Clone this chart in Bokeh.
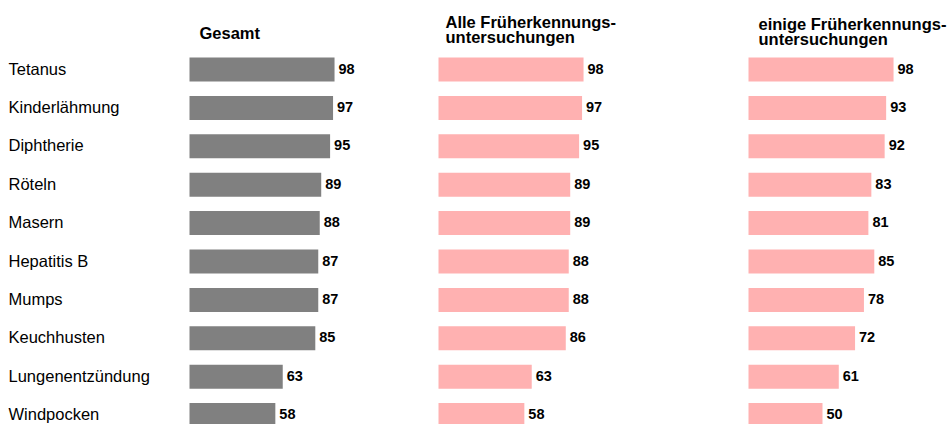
from bokeh.plotting import figure
from bokeh.models import Range1d, ColumnDataSource
from bokeh.core.properties import value
from bokeh.embed import file_html
from bokeh.resources import INLINE

categories = ["Tetanus", "Kinderlähmung", "Diphtherie", "Röteln", "Masern",
              "Hepatitis B", "Mumps", "Keuchhusten", "Lungenentzündung", "Windpocken"]
panel_titles = ["Gesamt", "Alle Früherkennungs-\nuntersuchungen", "einige Früherkennungs-\nuntersuchungen"]
gesamt = [98, 97, 95, 89, 88, 87, 87, 85, 63, 58]
alle = [98, 97, 95, 89, 89, 88, 88, 86, 63, 58]
einige = [98, 93, 92, 83, 81, 85, 78, 72, 61, 50]

series = [gesamt, alle, einige]
colors = ["#808080", "#FFB1B1", "#FFB1B1"]

W, H = 949, 424
PX_PER_UNIT = 1.48
ROW_PX = 38.4
FIRST_ROW_PX = 69

offsets_px = [189, 438, 748]
title_x_px = [199, 445, 758]
title_base_px = [32.5, 21.5, 23]
LINE_STEP_PX = 15

def ux(px):
    return px / PX_PER_UNIT

def uy(px):
    return (px - FIRST_ROW_PX) / ROW_PX

p = figure(width=W, height=H, output_backend="svg", toolbar_location=None,
           x_range=Range1d(0, ux(W)), y_range=Range1d(uy(H), uy(0)),
           min_border=0, outline_line_color=None)
p.axis.visible = False
p.grid.visible = False

ys = list(range(len(categories)))
bar_h = 24 / ROW_PX
font = "Liberation Sans"

p.text(x=[ux(8)] * len(categories), y=[y - 1 / ROW_PX for y in ys], text=categories,
       text_font=value(font), text_font_size="16.5px", text_baseline="middle",
       text_align="left", text_color="#000000")

for k, vals in enumerate(series):
    off = ux(offsets_px[k])
    src = ColumnDataSource(dict(y=ys, left=[off] * len(vals),
                                right=[off + v for v in vals],
                                lab=[str(v) for v in vals]))
    p.hbar(y="y", left="left", right="right", height=bar_h, source=src,
           fill_color=colors[k], line_color=None)
    p.text(x="right", y="y", text="lab", source=src, x_offset=4, y_offset=-1,
           text_font=value(font), text_font_size="14.5px", text_font_style="bold",
           text_baseline="middle", text_align="left", text_color="#000000")
    lines = panel_titles[k].split("\n")
    p.text(x=[ux(title_x_px[k])] * len(lines),
           y=[uy(title_base_px[k] + j * LINE_STEP_PX) for j in range(len(lines))],
           text=lines, text_font=value(font), text_font_size="16.5px",
           text_font_style="bold", text_baseline="alphabetic", text_align="left",
           text_color="#000000")

open("out.html", "w").write(file_html(p, INLINE))
